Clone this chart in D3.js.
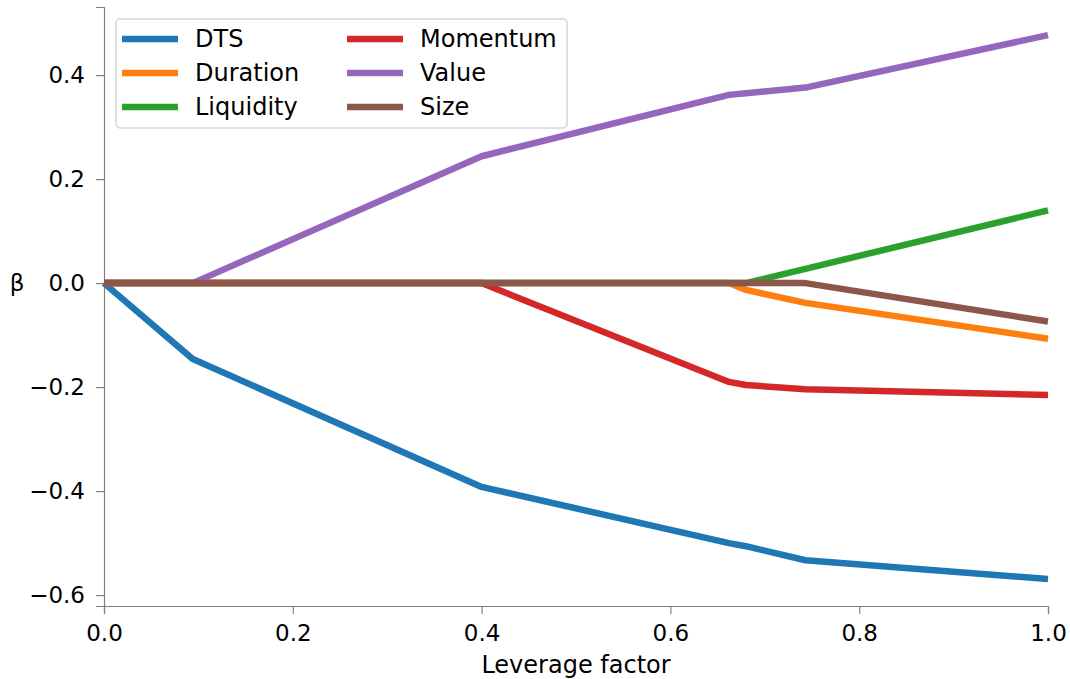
<!DOCTYPE html>
<html><head><meta charset="utf-8">
<script src="https://cdn.jsdelivr.net/npm/d3@7"></script>
<style>body{margin:0;background:#fff}</style>
</head><body>
<svg id="c" width="1070" height="679"></svg>
<script>
const leverage = [0, 0.094, 0.40, 0.662, 0.68, 0.743, 1.0];
const dts      = [0, -0.146, -0.392, -0.500, -0.506, -0.533, -0.569];
const duration = [0, 0, 0, 0, -0.013, -0.038, -0.107];
const liquidity= [0, 0, 0, 0, 0, 0.0275, 0.140];
const momentum = [0, 0, 0, -0.190, -0.196, -0.204, -0.215];
const value    = [0, 0, 0.244, 0.362, 0.365, 0.376, 0.477];
const size     = [0, 0, 0, 0, 0, 0, -0.074];
const seriesNames = ["DTS","Duration","Liquidity","Momentum","Value","Size"];
const seriesData = [dts, duration, liquidity, momentum, value, size];
const colors = ["#1f77b4","#ff7f0e","#2ca02c","#d62728","#9467bd","#8c564b"];
const xTicks = [0,0.2,0.4,0.6,0.8,1.0];
const yTicks = [-0.6,-0.4,-0.2,0,0.2,0.4];

const svg = d3.select("#c");
const font = "DejaVu Sans";
const x = d3.scaleLinear().domain([0,1]).range([104,1048]);
const y = d3.scaleLinear().domain([-0.621,0.531]).range([606,7]);
const fmt = v => (v<0?"\u2212":"") + Math.abs(v).toFixed(1);
const axisColor = "#808080";

const gx = svg.append("g").attr("transform","translate(0,606)")
  .call(d3.axisBottom(x).tickValues(xTicks).tickFormat(fmt).tickSizeOuter(0).tickSize(8).tickPadding(11));
const gy = svg.append("g").attr("transform","translate(104,0)")
  .call(d3.axisLeft(y).tickValues(yTicks).tickFormat(fmt).tickSizeOuter(0).tickSize(8).tickPadding(11));
[gx,gy].forEach(g=>{
  g.select(".domain").attr("stroke",axisColor).attr("stroke-width",1.2);
  g.selectAll(".tick line").attr("stroke",axisColor).attr("stroke-width",1.2);
  g.selectAll(".tick text").attr("font-family",font).attr("font-size",23).attr("fill","#000");
});

const line = d3.line().x((d,i)=>x(leverage[i])).y(d=>y(d));
seriesData.forEach((s,k)=>{
  svg.append("path").datum(s).attr("d",line).attr("fill","none")
    .attr("stroke",colors[k]).attr("stroke-width",6.5).attr("stroke-linejoin","round");
});

svg.append("text").attr("x",17).attr("y",291).attr("text-anchor","middle")
  .attr("font-family",font).attr("font-size",23).text("β");
svg.append("text").attr("x",576).attr("y",673).attr("text-anchor","middle")
  .attr("font-family",font).attr("font-size",24).text("Leverage factor");

const lg = svg.append("g");
lg.append("rect").attr("x",116).attr("y",19).attr("width",451).attr("height",109)
  .attr("rx",4).attr("fill","#fff").attr("fill-opacity",0.8).attr("stroke","#d5d5d5").attr("stroke-width",1.5);
seriesNames.forEach((n,k)=>{
  const col = Math.floor(k/3), row = k%3;
  const lx = col===0?122:347, ly = 39+row*34;
  lg.append("line").attr("x1",lx).attr("x2",lx+56).attr("y1",ly).attr("y2",ly)
    .attr("stroke",colors[k]).attr("stroke-width",6.5);
  lg.append("text").attr("x",lx+73).attr("y",ly+7.5).attr("font-family",font).attr("font-size",24).text(n);
});
</script>
</body></html>
